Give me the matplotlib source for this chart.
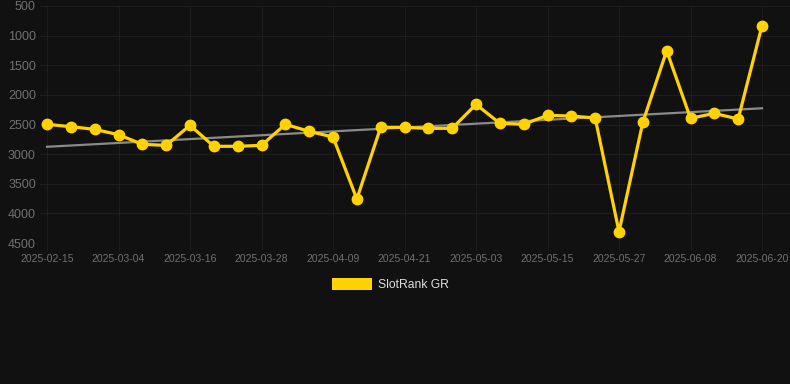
import numpy as np
import matplotlib
matplotlib.use("Agg")
import matplotlib.pyplot as plt
from matplotlib.patches import Rectangle

dates = ["2025-02-15", "2025-02-21", "2025-02-27", "2025-03-04", "2025-03-08", "2025-03-12",
         "2025-03-16", "2025-03-20", "2025-03-24", "2025-03-28", "2025-04-01", "2025-04-05",
         "2025-04-09", "2025-04-13", "2025-04-17", "2025-04-21", "2025-04-25", "2025-04-29",
         "2025-05-03", "2025-05-07", "2025-05-11", "2025-05-15", "2025-05-19", "2025-05-23",
         "2025-05-27", "2025-05-31", "2025-06-04", "2025-06-08", "2025-06-12", "2025-06-16",
         "2025-06-20"]
rank = [2497, 2537, 2582, 2672, 2835, 2852, 2514, 2868, 2868, 2852,
        2497, 2616, 2711, 3758, 2548, 2548, 2565, 2565, 2160, 2480,
        2497, 2345, 2357, 2390, 4309, 2463, 1254, 2396, 2312, 2408,
        832]
series_name = "SlotRank GR"
y_ticks = [500, 1000, 1500, 2000, 2500, 3000, 3500, 4000, 4500]

BG = "#111111"
GOLD = "#FFD200"
GRID = "#1d1d1d"
TICK = "#707070"

W, H = 790, 384
fig = plt.figure(figsize=(W / 100, H / 100), dpi=100, facecolor=BG)
ax = fig.add_axes([40 / W, 1 - 243 / H, 750 / W, 237 / H], facecolor=BG)

x = np.arange(len(rank))
# trend line
coef = np.polyfit(x, rank, 1)
ax.plot([x[0], x[-1]], np.polyval(coef, [x[0], x[-1]]), color="#8a8a8a", lw=1.6, zorder=2)

ax.plot(x, rank, color=GOLD, lw=2.3, marker="o", ms=7.5, mfc=GOLD, mec=GOLD, zorder=3)

px = (762 - 47) / 30
ax.set_xlim(-(47 - 40) / px, 30 + (790 - 762) / px)
ax.set_ylim(4500, 500)
ax.set_yticks(y_ticks)
ax.set_yticklabels([str(v) for v in y_ticks], fontsize=9, color=TICK, family="Liberation Sans")
tick_idx = list(range(0, len(dates), 3))
ax.set_xticks(tick_idx)
ax.set_xticklabels([dates[i] for i in tick_idx], fontsize=7.5, color=TICK, family="Liberation Sans")

ax.grid(True, color=GRID, lw=0.8)
ax.set_axisbelow(True)
for s in ax.spines.values():
    s.set_visible(False)
ax.tick_params(axis="x", length=5, color=GRID, pad=3)
ax.tick_params(axis="y", length=0, pad=3)

# legend
fig.patches.append(Rectangle((332 / W, 1 - 290 / H), 40 / W, 12 / H, transform=fig.transFigure,
                             facecolor=GOLD, edgecolor="none"))
fig.text(378 / W, 1 - 284.5 / H, series_name, color="#dddddd", fontsize=8.7,
         family="Liberation Sans", va="center", ha="left")

fig.savefig("out.png", dpi=100, facecolor=BG)
